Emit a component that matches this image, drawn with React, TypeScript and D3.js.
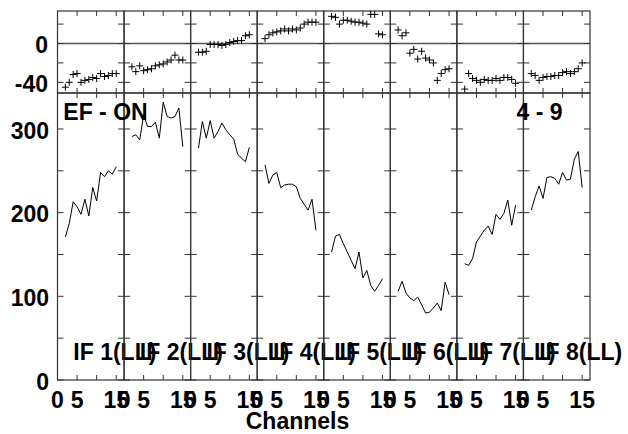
import React from 'react';
import * as d3 from 'd3';

const channels = [2, 3, 4, 5, 6, 7, 8, 9, 10, 11, 12, 13, 14, 15];
const ifLabels = ['IF 1(LL)', 'IF 2(LL)', 'IF 3(LL)', 'IF 4(LL)', 'IF 5(LL)', 'IF 6(LL)', 'IF 7(LL)', 'IF 8(LL)'];

const amp1 = [171, 187, 213, 207, 198, 216, 196, 230, 214, 248, 243, 250, 246, 255];
const amp2 = [291, 293, 287, 317, 303, 303, 308, 289, 332, 315, 313, 315, 325, 279];
const amp3 = [277, 309, 289, 310, 289, 297, 307, 299, 293, 288, 270, 265, 261, 278];
const amp4 = [257, 235, 245, 248, 230, 233, 234, 234, 231, 217, 210, 203, 216, 179];
const amp5 = [153, 172, 174, 163, 153, 143, 133, 153, 122, 131, 113, 106, 113, 121];
const amp6 = [106, 118, 104, 98, 95, 99, 90, 80, 81, 86, 92, 83, 117, 102];
const amp7 = [139, 137, 145, 165, 172, 179, 184, 174, 198, 192, 199, 215, 185, 209];
const amp8 = [203, 219, 232, 217, 242, 243, 241, 234, 248, 239, 240, 264, 273, 230];

const phase1 = [-45, -40, -32, -31, -40, -38, -37, -35, -36, -31, -34, -33, -31, -31];
const phase2 = [-24, -29, -23, -28, -27, -26, -23, -22, -21, -19, -17, -12, -17, -17];
const phase3 = [-9, -9, -8, -1, -1, -1, -2, -1, 1, 2, 3, 3, 8, 9];
const phase4 = [5, 9, 11, 12, 13, 15, 13, 15, 14, 16, 20, 22, 22, 22];
const phase5 = [28, 27, 20, 24, 24, 23, 22, 22, 21, 20, 30, 30, 10, 9];
const phase6 = [14, 8, 11, -10, -6, -16, -8, -15, -17, -20, -38, -31, -27, -26];
const phase7 = [-47, -31, -36, -38, -40, -37, -38, -38, -36, -38, -35, -35, -37, -41];
const phase8 = [-31, -33, -38, -35, -34, -34, -33, -33, -30, -29, -31, -29, -26, -20];

const amplitudes = [amp1, amp2, amp3, amp4, amp5, amp6, amp7, amp8];
const phases = [phase1, phase2, phase3, phase4, phase5, phase6, phase7, phase8];

const ampTicks = [0, 50, 100, 150, 200, 250, 300];
const ampLabelTicks = [0, 100, 200, 300];
const phaseTicks = [20, 0, -20, -40];
const phaseLabelTicks = [0, -40];
const chanTicks = [5, 10, 15];
const chanLabelTicks = [0, 5, 15];

const FONT = '"Liberation Sans", Arial, Helvetica, sans-serif';

export default function App() {
  const W = 628, H = 434;
  const left = 57.5, right = 590, top = 11, mid = 93, bottom = 380;
  const n = 8;
  const pw = (right - left) / n;
  const x = d3.scaleLinear().domain([0, 17]).range([0, pw]);
  const yA = d3.scaleLinear().domain([0, 343]).range([bottom, mid]);
  const yP = d3.scaleLinear().domain([-51, 33.5]).range([mid, top]);
  const frame = '#333';
  const tl = 6;
  const xt = 5;

  const line = d3.line<number>()
    .x((_, i) => x(channels[i]))
    .y((d) => yA(d));

  return (
    <svg width={W} height={H} style={{ position: 'absolute', left: 0, top: 0, background: '#fff' }}
      fontFamily={FONT} fontWeight="bold">
      {amplitudes.map((amp, p) => {
        const ox = left + p * pw;
        const ph = phases[p];
        return (
          <g key={p} transform={`translate(${ox},0)`}>
            <line x1={0} x2={pw} y1={yP(0)} y2={yP(0)} stroke="#555" strokeWidth={1.3} />
            <rect x={0} y={top} width={pw} height={mid - top} fill="none" stroke={frame} strokeWidth={1.2} />
            <rect x={0} y={mid} width={pw} height={bottom - mid} fill="none" stroke={frame} strokeWidth={1.2} />
            {ampTicks.map((t) => (
              <g key={'a' + t}>
                <line x1={0} x2={tl} y1={yA(t)} y2={yA(t)} stroke={frame} strokeWidth={1} />
                <line x1={pw - tl} x2={pw} y1={yA(t)} y2={yA(t)} stroke={frame} strokeWidth={1} />
              </g>
            ))}
            {phaseTicks.map((t) => (
              <g key={'p' + t}>
                <line x1={0} x2={tl} y1={yP(t)} y2={yP(t)} stroke={frame} strokeWidth={1} />
                <line x1={pw - tl} x2={pw} y1={yP(t)} y2={yP(t)} stroke={frame} strokeWidth={1} />
              </g>
            ))}
            {chanTicks.map((c) => (
              <g key={'c' + c}>
                <line x1={x(c)} x2={x(c)} y1={bottom} y2={bottom - xt} stroke={frame} strokeWidth={1} />
                <line x1={x(c)} x2={x(c)} y1={mid} y2={mid + xt} stroke={frame} strokeWidth={1} />
                <line x1={x(c)} x2={x(c)} y1={mid} y2={mid - xt} stroke={frame} strokeWidth={1} />
                <line x1={x(c)} x2={x(c)} y1={top} y2={top + xt} stroke={frame} strokeWidth={1} />
              </g>
            ))}
            {chanLabelTicks.map((c) => (
              <text key={'cl' + c} x={x(c)} y={408} fontSize={23} textAnchor="middle" fill="#000">{c}</text>
            ))}
            <path d={line(amp) || ''} fill="none" stroke="#000" strokeWidth={1} />
            {ph.map((v, i) => {
              const cx = x(channels[i]);
              const cy = yP(v);
              return (
                <g key={'x' + i} stroke="#000" strokeWidth={1}>
                  <line x1={cx - 3.5} x2={cx + 3.5} y1={cy} y2={cy} />
                  <line x1={cx} x2={cx} y1={cy - 3.5} y2={cy + 3.5} />
                </g>
              );
            })}
            <text x={15.8} y={360} fontSize={23} fill="#000">{ifLabels[p]}</text>
          </g>
        );
      })}
      {ampLabelTicks.map((t) => (
        <text key={'al' + t} x={49} y={yA(t) + 9.7} fontSize={23} textAnchor="end" fill="#000">{t}</text>
      ))}
      {phaseLabelTicks.map((t) => (
        <text key={'pl' + t} x={48} y={yP(t) + 9.7} fontSize={23} textAnchor="end" fill="#000">{t}</text>
      ))}
      <text x={63.3} y={120} fontSize={23} fill="#000">EF - ON</text>
      <text x={516.5} y={120} fontSize={23} fill="#000">4 - 9</text>
      <text x={297.5} y={429} fontSize={23} textAnchor="middle" fill="#000">Channels</text>
    </svg>
  );
}
